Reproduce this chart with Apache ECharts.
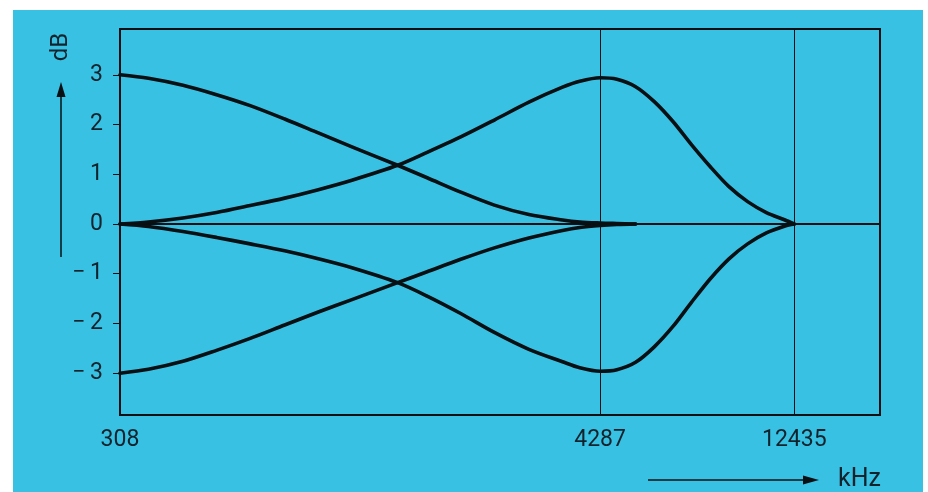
<!DOCTYPE html>
<html>
<head>
<meta charset="utf-8">
<script src="https://cdn.jsdelivr.net/npm/echarts@6/dist/echarts.min.js"></script>
<style>
  html, body { margin: 0; padding: 0; background: #ffffff; }
  #chart { width: 928px; height: 492px; }
</style>
</head>
<body>
<div id="chart"></div>
<script>
// Frequency response of the adjustable equaliser: gain in dB versus frequency in kHz.
const freqKHz = [308, 360, 435, 523, 629, 760, 914, 1099, 1412, 1660, 1996, 2400, 2901,
  3488, 3835, 4287, 4701, 5208, 5770, 6393, 7082, 7846, 8692, 9628, 10670, 11819, 12435];

// Low-frequency boost / cut (flattens out just past 4287 kHz)
const lowBoost = [3.00, 2.93, 2.79, 2.60, 2.38, 2.11, 1.83, 1.55, 1.18, 0.93, 0.64, 0.38, 0.19,
  0.08, 0.04, 0.02, 0.01, 0.00, null, null, null, null, null, null, null, null, null];
const lowCut = [-3.00, -2.92, -2.76, -2.54, -2.30, -2.03, -1.77, -1.52, -1.18, -0.96, -0.71, -0.48, -0.28,
  -0.13, -0.07, -0.03, -0.01, 0.00, null, null, null, null, null, null, null, null, null];

// Mid-band boost / cut (peaking at 4287 kHz, back to 0 dB at 12435 kHz)
const midBoost = [0.00, 0.04, 0.12, 0.23, 0.37, 0.52, 0.69, 0.88, 1.18, 1.44, 1.75, 2.09, 2.45,
  2.75, 2.87, 2.94, 2.91, 2.76, 2.46, 2.06, 1.59, 1.15, 0.75, 0.45, 0.23, 0.08, 0.00];
const midCut = [0.00, -0.05, -0.15, -0.27, -0.40, -0.54, -0.70, -0.88, -1.18, -1.45, -1.80, -2.18, -2.52,
  -2.77, -2.89, -2.96, -2.93, -2.78, -2.47, -2.06, -1.57, -1.10, -0.70, -0.40, -0.18, -0.04, 0.00];

const xTicks = [308, 4287, 12435];
const yTicks = [-3, -2, -1, 0, 1, 2, 3];
const refFreqs = [4287, 12435];

const ink = '#081014';
const textInk = '#10222c';
const panel = '#38c1e3';
const fontFamily = 'Roboto, "DejaVu Sans", sans-serif';

function pairs(vals) {
  return freqKHz.map((f, i) => [f, vals[i]]);
}

function curve(name, vals, extra) {
  return Object.assign({
    name: name,
    type: 'line',
    data: pairs(vals),
    smooth: 0.3,
    showSymbol: false,
    symbol: 'none',
    connectNulls: false,
    lineStyle: { color: ink, width: 3.6, cap: 'round', join: 'round' },
    z: 5
  }, extra || {});
}

const chart = echarts.init(document.getElementById('chart'), null, { renderer: 'canvas' });

chart.setOption({
  animation: false,
  backgroundColor: 'transparent',
  graphic: [
    {
      type: 'rect',
      shape: { x: 13, y: 10, width: 910, height: 482 },
      style: { fill: panel },
      z: -10,
      silent: true
    },
    // vertical axis caption with arrow
    {
      type: 'text',
      x: 61, y: 47,
      rotation: Math.PI / 2,
      style: {
        text: 'dB', fill: textInk, font: '24px ' + fontFamily,
        align: 'center', verticalAlign: 'middle'
      }
    },
    {
      type: 'line',
      shape: { x1: 61, y1: 257, x2: 61, y2: 95 },
      style: { stroke: ink, lineWidth: 1.5 }
    },
    {
      type: 'polygon',
      shape: { points: [[61, 82], [56.5, 97], [65.5, 97]] },
      style: { fill: ink }
    },
    // horizontal axis caption with arrow
    {
      type: 'line',
      shape: { x1: 648, y1: 480, x2: 806, y2: 480 },
      style: { stroke: ink, lineWidth: 1.5 }
    },
    {
      type: 'polygon',
      shape: { points: [[819, 480], [803, 475.5], [803, 484.5]] },
      style: { fill: ink }
    },
    {
      type: 'text',
      x: 838, y: 480,
      style: {
        text: 'kHz', fill: textInk, font: '25px ' + fontFamily,
        align: 'left', verticalAlign: 'middle'
      }
    }
  ],
  grid: {
    left: 120, right: 48, top: 29, bottom: 77,
    outerBoundsMode: 'none',
    show: true,
    borderColor: ink,
    borderWidth: 2,
    backgroundColor: 'transparent'
  },
  xAxis: {
    type: 'log',
    min: 308,
    max: 19900,
    axisLine: { show: true, lineStyle: { color: ink, width: 2 } },
    axisTick: {
      show: true, inside: false, length: 10,
      customValues: xTicks,
      lineStyle: { color: ink, width: 1 }
    },
    axisLabel: {
      show: true,
      customValues: xTicks,
      margin: 14,
      color: textInk,
      fontFamily: fontFamily,
      fontSize: 23,
      formatter: v => String(Math.round(v))
    },
    splitLine: { show: false },
    minorTick: { show: false }
  },
  yAxis: {
    type: 'value',
    min: -3.84,
    max: 3.92,
    axisLine: { show: true, lineStyle: { color: ink, width: 1.5 } },
    axisTick: {
      show: true, inside: false, length: 7,
      customValues: yTicks,
      lineStyle: { color: ink, width: 1 }
    },
    axisLabel: {
      show: true,
      customValues: yTicks,
      margin: 17,
      color: textInk,
      fontFamily: fontFamily,
      fontSize: 23,
      formatter: v => {
        const n = Math.round(v);
        return n < 0 ? '\u2212\u2009' + Math.abs(n) : String(n);
      }
    },
    splitLine: { show: false }
  },
  series: [
    curve('low boost', lowBoost, {
      markLine: {
        silent: true,
        symbol: 'none',
        label: { show: false },
        lineStyle: { color: ink, width: 1, type: 'solid' },
        data: [{ yAxis: 0 }].concat(refFreqs.map(f => ({ xAxis: f })))
      }
    }),
    curve('low cut', lowCut),
    curve('mid boost', midBoost),
    curve('mid cut', midCut)
  ]
});
</script>
</body>
</html>
